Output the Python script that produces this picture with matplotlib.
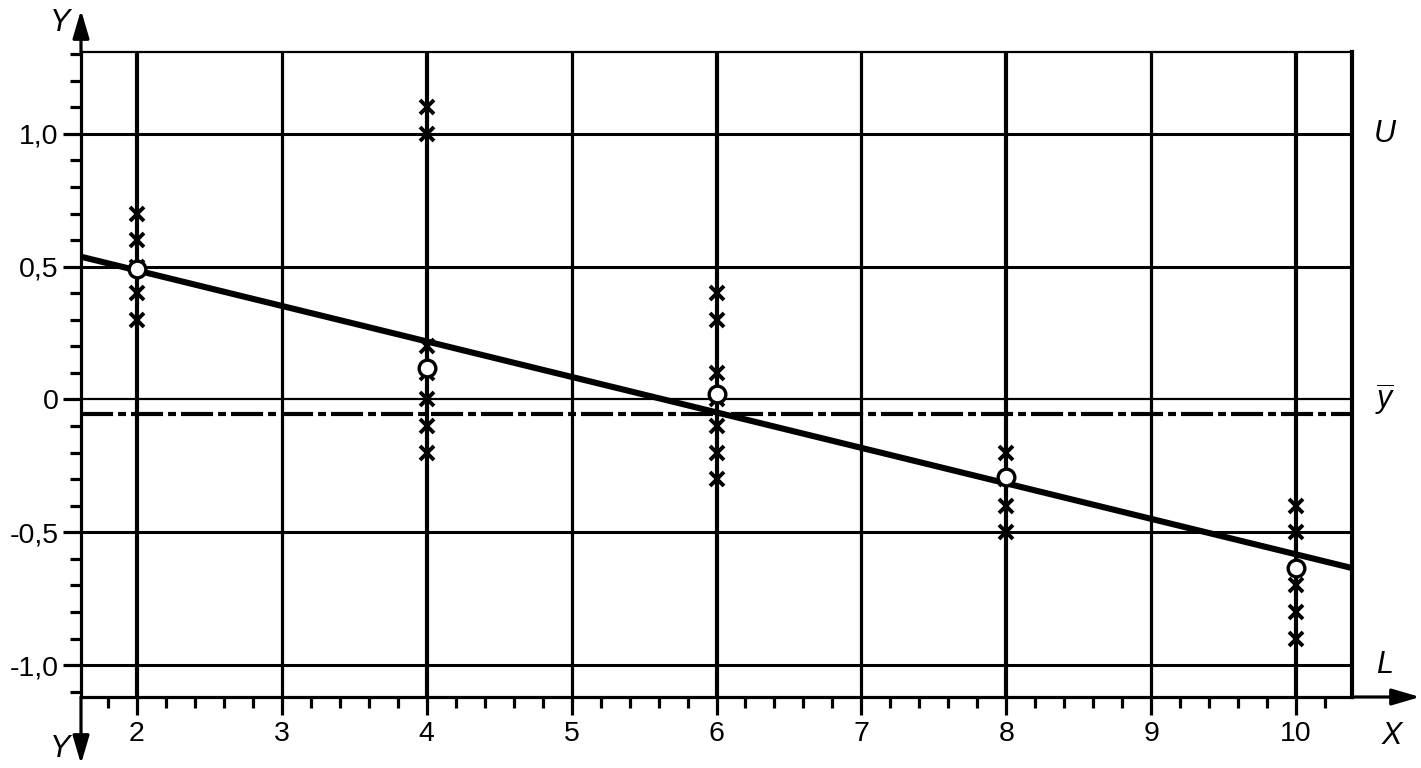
import numpy as np
import matplotlib.pyplot as plt
from matplotlib.ticker import FixedLocator, MultipleLocator

plt.rcParams['font.family'] = ['Liberation Sans', 'DejaVu Sans']
plt.rcParams['mathtext.fontset'] = 'custom'
plt.rcParams['mathtext.it'] = 'Liberation Sans:italic'
plt.rcParams['mathtext.rm'] = 'Liberation Sans'

# measured values per X level (crosses) and the plotted mean (circles)
x_levels = [2, 4, 6, 8, 10]
y_points = [
    [0.7, 0.6, 0.5, 0.4, 0.3],
    [1.1, 1.0, 0.2, 0.1, 0.0, -0.1, -0.2],
    [0.4, 0.3, 0.1, 0.0, -0.1, -0.2, -0.3],
    [-0.2, -0.3, -0.4, -0.5],
    [-0.4, -0.5, -0.7, -0.8, -0.9],
]
y_means = [0.49, 0.12, 0.02, -0.29, -0.635]

# regression line and overall mean
fit_slope = -0.1336
fit_intercept = 0.753
y_bar = -0.056
upper_limit = 1.0
lower_limit = -1.0

xlim = (1.614, 10.386)
ylim = (-1.12, 1.308)
y_ticks = [-1.0, -0.5, 0.0, 0.5, 1.0]
y_ticklabels = ["-1,0", "-0,5", "0", "0,5", "1,0"]
x_ticks = [2, 3, 4, 5, 6, 7, 8, 9, 10]

W, H = 1421, 768
fig = plt.figure(figsize=(W / 100, H / 100), dpi=100)
ax = fig.add_axes([81 / W, 1 - 697 / H, (1352 - 81) / W, (697 - 52) / H])
ax.set_xlim(*xlim)
ax.set_ylim(*ylim)

# grid
for xv in x_ticks:
    lw = 3.0 if xv % 2 == 0 else 2.3
    ax.axvline(xv, color='black', lw=lw, zorder=1)
for yv in y_ticks:
    ax.axhline(yv, color='black', lw=1.6 if yv == 0 else 2.2, zorder=1)

# mean line and regression line
ax.axhline(y_bar, color='black', lw=3.0, dashes=(7.7, 1.2, 1.9, 1.2), zorder=2)
xs = np.array(xlim)
ax.plot(xs, fit_intercept + fit_slope * xs, color='black', lw=4.4,
        solid_capstyle='butt', zorder=3)

for xv, ys, ym in zip(x_levels, y_points, y_means):
    ax.plot([xv] * len(ys), ys, linestyle='none', marker='x', ms=10.5,
            mew=2.8, color='black', zorder=4)
    ax.plot([xv], [ym], linestyle='none', marker='o', ms=12, mew=2.4,
            mfc='white', mec='black', zorder=5)

# spines
for side in ['left', 'bottom']:
    ax.spines[side].set_linewidth(2.3)
ax.spines['top'].set_linewidth(1.6)
ax.spines['right'].set_linewidth(3.0)

ax.xaxis.set_major_locator(FixedLocator(x_ticks))
ax.xaxis.set_minor_locator(MultipleLocator(0.2))
ax.yaxis.set_major_locator(FixedLocator(y_ticks))
ax.set_yticklabels(y_ticklabels)
ax.yaxis.set_minor_locator(MultipleLocator(0.1))
ax.tick_params(axis='both', which='major', length=13, width=2.3,
               labelsize=20.5, direction='out', pad=4)
ax.tick_params(axis='both', which='minor', length=8, width=2.3,
               direction='out')
ax.tick_params(axis='y', which='major', pad=3)

# axis arrows and labels
x0, y0 = 81 / W, 1 - 697 / H
arrow = dict(arrowstyle='-|>,head_length=1.7,head_width=0.5', color='black',
             lw=2.3, shrinkA=0, shrinkB=0)
ax.annotate('', xy=(x0, 1 - 10 / H), xytext=(x0, 1 - 52 / H),
            xycoords='figure fraction', arrowprops=arrow)
ax.annotate('', xy=(x0, 1 - 764 / H), xytext=(x0, y0),
            xycoords='figure fraction', arrowprops=arrow)
ax.annotate('', xy=(1420 / W, y0), xytext=(1352 / W, y0),
            xycoords='figure fraction', arrowprops=arrow)

label_kw = dict(fontsize=22, style='italic', color='black')
fig.text(60 / W, 1 - 23 / H, 'Y', ha='center', va='center', **label_kw)
fig.text(60 / W, 1 - 749 / H, 'Y', ha='center', va='center', **label_kw)
fig.text(1392 / W, 1 - 736 / H, 'X', ha='center', va='center', **label_kw)

side_tf = ax.get_yaxis_transform().__class__(fig.transFigure, ax.transData)
for yv, txt in [(upper_limit, 'U'), (0.0, r'$\overline{y}$'),
                (lower_limit, 'L')]:
    ax.text(1385 / W, yv, txt, transform=side_tf, ha='center', va='center',
            **label_kw)

fig.savefig('out.png', dpi=100)
